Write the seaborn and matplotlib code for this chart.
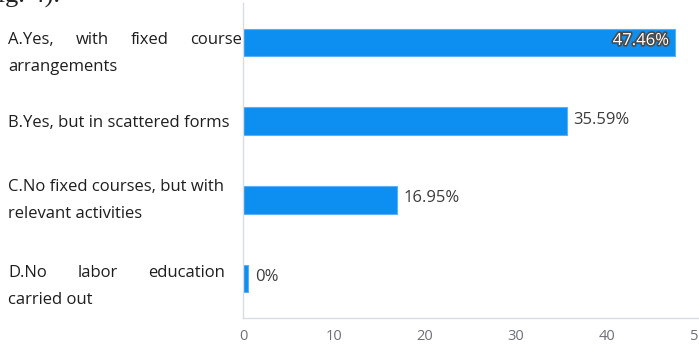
import matplotlib
matplotlib.use("Agg")
import matplotlib.pyplot as plt
import matplotlib.patheffects as pe
from matplotlib.transforms import IdentityTransform
import pandas as pd
import seaborn as sns

# data
categories = ["A", "B", "C", "D"]
percent = [47.46, 35.59, 16.95, 0]
label_lines = [
    ["A.Yes, with fixed course", "arrangements"],
    ["B.Yes, but in scattered forms"],
    ["C.No fixed courses, but with", "relevant activities"],
    ["D.No labor education", "carried out"],
]
justified_first_line = [True, False, False, True]
xticks = [0, 10, 20, 30, 40, 50]

# style / layout
W, H = 699, 347
BAR = "#0d8ff2"
MIN_BAR = 0.6           # echarts style minimum bar length for 0 values
label_left = 8          # px
justify_right = [242, None, None, 225]
label_shift = [11, 2, 1, 8]   # px, label block below bar centre
line_gap = 27
FONT = ["Open Sans", "DejaVu Sans"]

sns.set_theme(style="white")
plt.rcParams["font.family"] = FONT

df = pd.DataFrame({"cat": categories, "pct": percent})
df["shown"] = df["pct"].clip(lower=MIN_BAR)

fig = plt.figure(figsize=(W / 100, H / 100), dpi=100)
ax = fig.add_axes([243 / W, 1 - 318 / H, (698 - 243) / W, (318 - 3) / H])

sns.barplot(data=df, x="shown", y="cat", orient="h", color=BAR, saturation=1,
            width=0.35, edgecolor="#5ab0f7", linewidth=0.8, ax=ax)

ax.set_xlim(0, 50)
ax.set_xticks(xticks)
ax.set_xticklabels([str(t) for t in xticks], color="#6e7079", fontsize=10.5)
ax.tick_params(axis="x", length=0, pad=8)
ax.set_yticks([])
ax.set_xlabel("")
ax.set_ylabel("")
for s in ["top", "right"]:
    ax.spines[s].set_visible(False)
for s in ["left", "bottom"]:
    ax.spines[s].set_color("#d9dde3")
    ax.spines[s].set_linewidth(1)

# value labels
for i, row in df.iterrows():
    if i == 0:
        ax.annotate(f"{row['pct']}%", (row["shown"], i), xytext=(-4, 1),
                    textcoords="offset points", ha="right", va="center",
                    color="white", fontsize=12,
                    path_effects=[pe.withStroke(linewidth=2.4, foreground="#4a4a4a")])
    else:
        ax.annotate(f"{row['pct']:g}%", (row["shown"], i), xytext=(4.5, 1),
                    textcoords="offset points", ha="left", va="center",
                    color="#3c3c3c", fontsize=12)

fig.canvas.draw()
renderer = fig.canvas.get_renderer()

# category labels, left of the axis, justified where the source was
for i, lines in enumerate(label_lines):
    yc = ax.transData.transform((0, i))[1] - label_shift[i]
    n = len(lines)
    for k, line in enumerate(lines):
        y = yc + ((n - 1) / 2 - k) * line_gap
        if k == 0 and justified_first_line[i]:
            words = line.split()
            texts = [fig.text(0, y, w, transform=IdentityTransform(), va="center",
                              ha="left", fontsize=12, color="#1e1e1e") for w in words]
            widths = [t.get_window_extent(renderer).width for t in texts]
            gap = (justify_right[i] - label_left - sum(widths)) / (len(words) - 1)
            x = label_left
            for t, wd in zip(texts, widths):
                t.set_x(x)
                x += wd + gap
        else:
            fig.text(label_left, y, line, transform=IdentityTransform(), va="center",
                     ha="left", fontsize=12, color="#1e1e1e")

# remnant of the caption cut by the crop
fig.text(-17, H - 3, "Fig. 4).", transform=IdentityTransform(), va="baseline",
         ha="left", fontsize=19, family=["Liberation Serif"], color="#222222")

fig.savefig("out.png", dpi=100)
